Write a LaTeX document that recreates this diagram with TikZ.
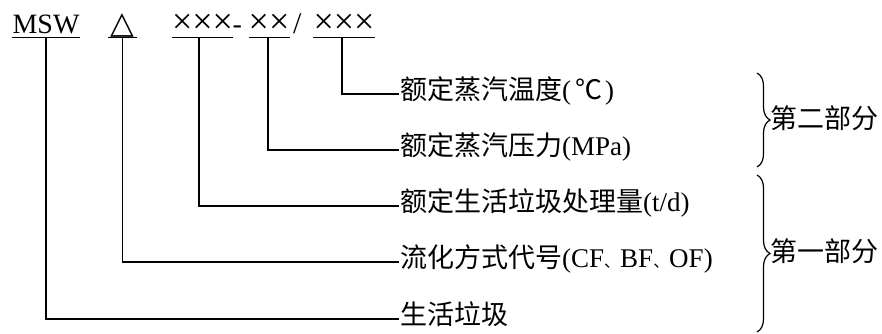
\documentclass[tikz,border=0pt]{standalone}
\usepackage{fontspec}
\setmainfont{Liberation Serif}
\newfontfamily\cjk{Noto Sans CJK SC}
\newfontfamily\dvs{DejaVu Sans}
\usetikzlibrary{decorations.pathreplacing}
\newcommand\lat[1]{{\rmfamily\fontsize{27}{30}\selectfont #1}}
\newcommand\dun{{\fontsize{16}{18}\selectfont 、}}
\begin{document}
\begin{tikzpicture}[x=1pt,y=-1pt,
  conn/.style={line width=1.3pt},
  uline/.style={line width=1.2pt},
  code/.style={anchor=base,inner xsep=0pt,inner ysep=0pt,text depth=4.5pt,font=\fontsize{28}{32}\selectfont},
  cross/.style={code,font=\fontsize{36}{38}\selectfont},
  sym/.style={anchor=base west,inner sep=0pt,font=\fontsize{28}{32}\selectfont},
  lab/.style={anchor=west,inner xsep=1pt,inner ysep=0pt,text height=22pt,text depth=11pt,font=\cjk\fontsize{27}{30}\selectfont},
  brace/.style={decorate,decoration={brace,amplitude=13pt},line width=1.2pt}]
\useasboundingbox (0,0) rectangle (882,333);

% top code row
\node[code,minimum width=68pt] (msw) at (46,33) {MSW};
\node[code,minimum width=29pt,font=\dvs\fontsize{31}{32}\selectfont] (tri) at (122.5,33) {△};
\node[cross,minimum width=61pt] (x1) at (202.5,33) {×××};
\node[sym] (hy) at (232.5,33) {-};
\node[cross,minimum width=36pt] (x2) at (269,33) {××};
\node[sym,font=\fontsize{30}{32}\selectfont] (sl) at (293,33) {/};
\node[cross,minimum width=62pt] (x3) at (344,33) {×××};

\foreach \n in {msw,tri,x1,x2,x3}
  \draw[uline] (\n.south west) -- (\n.south east);

% labels
\node[lab] (l1) at (399,94)  {额定蒸汽温度\lat{(}\kern4pt℃\kern3pt\lat{)}};
\node[lab] (l2) at (399,150) {额定蒸汽压力\lat{(MPa)}};
\node[lab] (l3) at (399,206) {额定生活垃圾处理量\lat{(t/d)}};
\node[lab] (l4) at (399,262) {流化方式代号\lat{(CF}\dun\lat{BF}\dun\lat{OF)}};
\node[lab] (l5) at (399,319) {生活垃圾};

% connectors
\draw[conn] ([xshift=-2pt]x3.south) |- (l1.west);
\draw[conn] ([xshift=-1pt]x2.south) |- (l2.west);
\draw[conn] ([xshift=-3.5pt]x1.south) |- (l3.west);
\draw[conn] (tri.south) |- (l4.west);
\draw[conn] (msw.south) |- (l5.west);

% braces
\coordinate (b2t) at (757,73);
\coordinate (b2b) at (757,167);
\coordinate (b1t) at (757,175);
\coordinate (b1b) at (757,332);
\draw[brace] (b2t) -- (b2b);
\draw[brace] (b1t) -- (b1b);
\node[lab] (p2) at (769,123) {第二部分};
\node[lab] (p1) at (769,256) {第一部分};
\end{tikzpicture}
\end{document}
